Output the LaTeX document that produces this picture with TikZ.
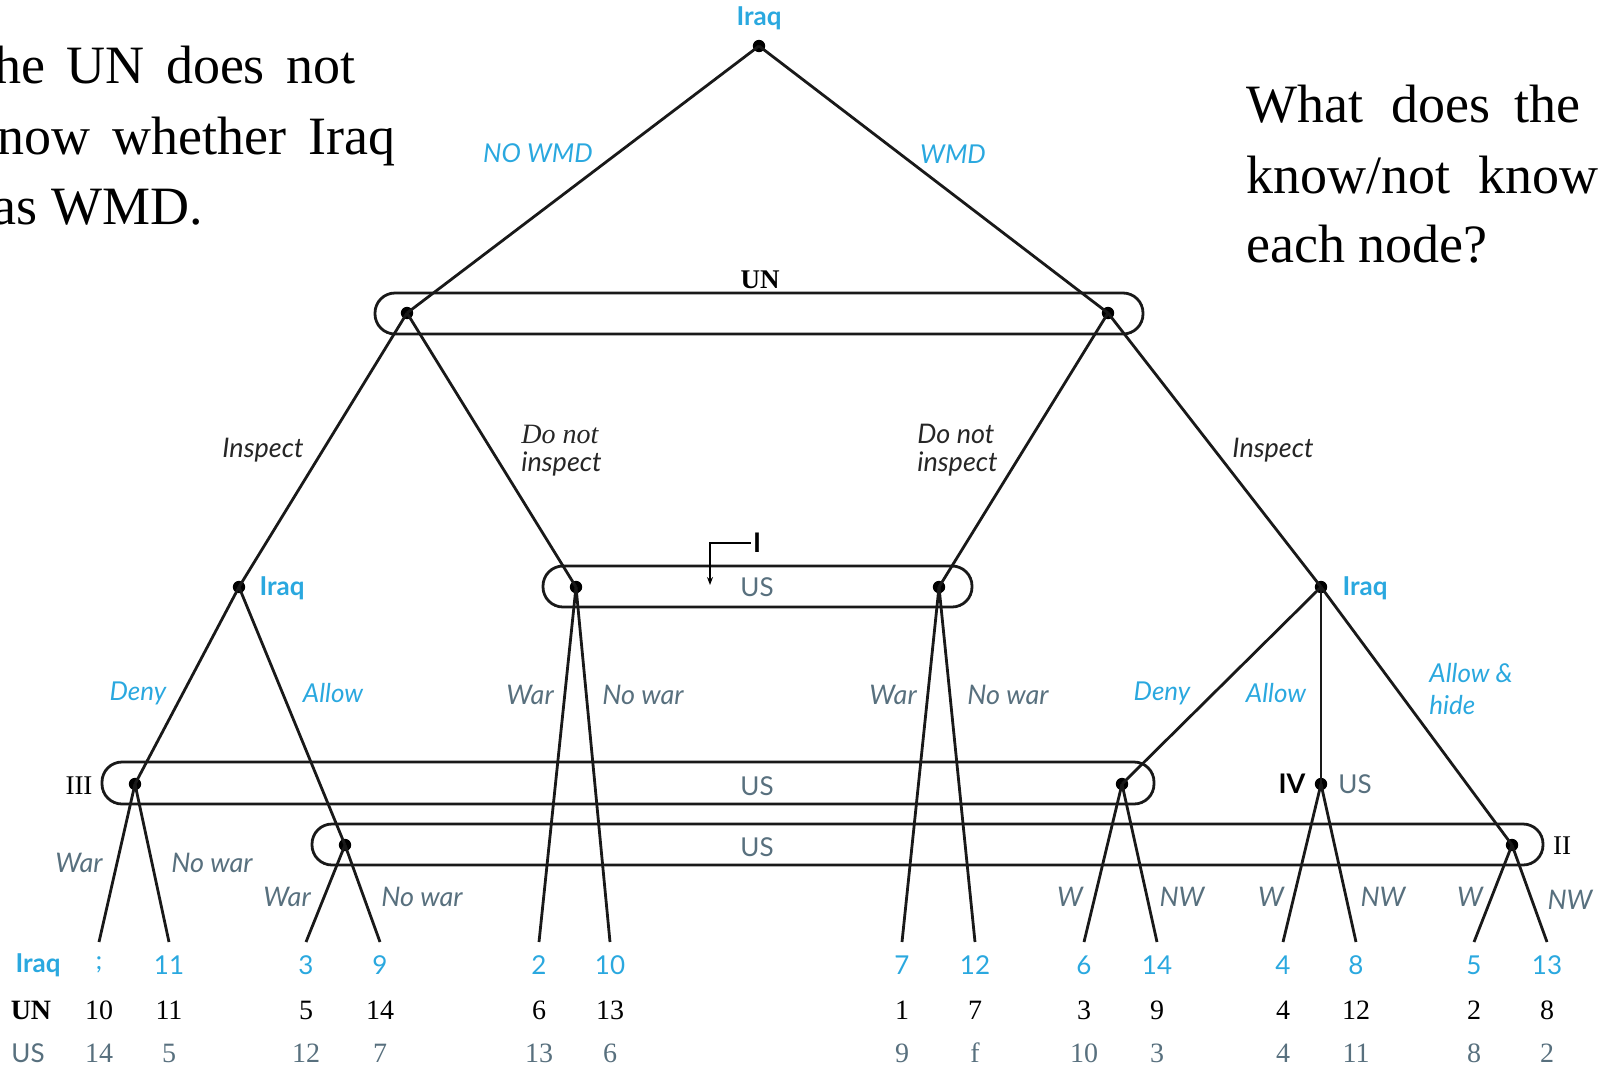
\documentclass[tikz,border=0pt]{standalone}
\usepackage{fontspec}
\setmainfont{Liberation Serif}
\newfontfamily\lato{Lato}
\usetikzlibrary{arrows.meta}
\definecolor{iblue}{HTML}{2AA8DF}
\definecolor{usgray}{HTML}{58707E}
\definecolor{dk}{HTML}{262626}
\tikzset{
 dot/.style={circle, fill=black, inner sep=0pt, minimum size=6.2pt},
 edge/.style={line width=1.4pt, draw=black!90},
 iset/.style={draw=black!90, line width=1.4pt, rounded corners=10pt, inner sep=0pt, minimum height=20.5pt},
 bl/.style={font=\lato\itshape\fontsize{13}{16}\selectfont, text=iblue, inner sep=0pt},
 gl/.style={font=\lato\itshape\fontsize{13.5}{14}\selectfont, text=usgray, inner sep=0pt},
 dl/.style={font=\lato\itshape\fontsize{13.5}{14}\selectfont, text=dk, inner sep=0pt, align=left},
 pl/.style={font=\lato\bfseries\fontsize{13}{14}\selectfont, text=iblue, inner sep=0pt},
 usl/.style={font=\lato\fontsize{13}{14}\selectfont, text=usgray, inner sep=0pt},
 big/.style={font=\fontsize{27}{35}\selectfont, inner sep=0pt},
 piraq/.style={font=\lato\fontsize{13}{14}\selectfont, text=iblue, inner sep=0pt},
 pun/.style={font=\fontsize{14}{15}\selectfont, text=black, inner sep=0pt},
 pus/.style={font=\fontsize{14}{15}\selectfont, text=usgray, inner sep=0pt},
 rom/.style={font=\fontsize{13.5}{15}\selectfont, inner sep=0pt},
}
\begin{document}
\begin{tikzpicture}[x=0.5pt, y=-0.5pt]
\useasboundingbox (0,0) rectangle (1600,1066);

% side texts (cut at the picture's edges, as in the reference)
\node[big, anchor=base west] (t1) at (-6,83) {\makebox[180.5pt][s]{he UN does not}};
\node[big, anchor=base west] (t2) at (-3,154) {\makebox[199pt][s]{now whether Iraq}};
\node[big, anchor=base east] (t3) at (203,224) {as WMD.};
\node[big, anchor=base west] (q1) at (1246,122) {What\hspace{14pt}does\hspace{12pt}the};
\node[big, anchor=base west] (q2) at (1246,193) {know/not\hspace{14pt}know};
\node[big, anchor=base west] (q3) at (1246,262) {each node?};

% information sets
\node[iset, minimum width=384pt] (isUN) at (759,313.5) {};
\node[iset, minimum width=214.5pt] (isI) at (757.5,586.5) {};
\node[iset, minimum width=526pt, minimum height=21pt] (isIII) at (628,783) {};
\node[iset, minimum width=615.5pt] (isII) at (927.5,844.5) {};

% decision nodes
\node[dot] (root) at (759,46) {};
\node[dot] (u1) at (407,313) {};
\node[dot] (u2) at (1108,313) {};
\node[dot] (iL) at (239,587) {};
\node[dot] (s1) at (576,587) {};
\node[dot] (s2) at (939,587) {};
\node[dot] (iR) at (1321,587) {};
\node[dot] (a3) at (135,784) {};
\node[dot] (a4) at (1122,784) {};
\node[dot] (iv) at (1321,784) {};
\node[dot] (b2) at (345,845) {};
\node[dot] (b5) at (1512,845) {};

% leaves
\coordinate (l1) at (99,942);
\coordinate (l2) at (169,942);
\coordinate (l3) at (306,942);
\coordinate (l4) at (380,942);
\coordinate (l5) at (539,942);
\coordinate (l6) at (610,942);
\coordinate (l7) at (902,942);
\coordinate (l8) at (975,942);
\coordinate (l9) at (1084,942);
\coordinate (l10) at (1157,942);
\coordinate (l11) at (1283,942);
\coordinate (l12) at (1356,942);
\coordinate (l13) at (1474,942);
\coordinate (l14) at (1547,942);

% edges
\draw[edge] (root.center) -- (u1.center);
\draw[edge] (root.center) -- (u2.center);
\draw[edge] (u1.center) -- (iL.center);
\draw[edge] (u1.center) -- (s1.center);
\draw[edge] (u2.center) -- (s2.center);
\draw[edge] (u2.center) -- (iR.center);
\draw[edge] (iL.center) -- (a3.center);
\draw[edge] (iL.center) -- (b2.center);
\draw[edge] (iR.center) -- (a4.center);
\draw[edge] (iR.center) -- (iv.center);
\draw[edge] (iR.center) -- (b5.center);
\draw[edge] (a3.center) -- (l1);
\draw[edge] (a3.center) -- (l2);
\draw[edge] (b2.center) -- (l3);
\draw[edge] (b2.center) -- (l4);
\draw[edge] (s1.center) -- (l5);
\draw[edge] (s1.center) -- (l6);
\draw[edge] (s2.center) -- (l7);
\draw[edge] (s2.center) -- (l8);
\draw[edge] (a4.center) -- (l9);
\draw[edge] (a4.center) -- (l10);
\draw[edge] (iv.center) -- (l11);
\draw[edge] (iv.center) -- (l12);
\draw[edge] (b5.center) -- (l13);
\draw[edge] (b5.center) -- (l14);

% player labels
\node[pl] (proot) at (759,18) {Iraq};
\node[font=\bfseries\fontsize{13.5}{15}\selectfont, inner sep=0pt] (pUN) at (760,280) {UN};
\node[usl] (pUSI) at (757,587) {US};
\node[pl] (piL) at (282,588) {Iraq};
\node[pl] (piR) at (1365,588) {Iraq};
\node[usl] (pUSIII) at (757,786) {US};
\node[usl] (pUSII) at (757,847) {US};
\node[usl] (pUSIV) at (1355,784) {US};
\node[font=\lato\bfseries\fontsize{13.5}{15}\selectfont, inner sep=0pt] (mIV) at (1292,784) {IV};
\node[rom] (mIII) at (79,786) {III};
\node[rom] (mII) at (1562,846) {II};
\node[font=\lato\bfseries\fontsize{13.5}{15}\selectfont, inner sep=1pt] (mI) at (757,543) {I};
\coordinate (Itip) at (710,585);
\draw[line width=0.6pt, -{Stealth[length=4pt,width=3pt]}] (mI.west) -| (Itip);

% branch labels
\node[bl] (eNW) at (538,153) {NO WMD};
\node[bl] (eW) at (953,154) {WMD};
\node[dl] (eInL) at (263,450) {Inspect};
\node[dl, anchor=west] (eDnL) at (521,451) {{\rmfamily\itshape\fontsize{14}{14}\selectfont Do not}\\inspect};
\node[dl, anchor=west] (eDnR) at (917,450) {Do not\\inspect};
\node[dl] (eInR) at (1273,450) {Inspect};
\node[bl] (eDL) at (138,693) {Deny};
\node[bl] (eAL) at (333,693) {Allow};
\node[gl] (eWa1) at (530,695) {War};
\node[gl] (eNw1) at (643,695) {No war};
\node[gl] (eWa2) at (893,695) {War};
\node[gl] (eNw2) at (1008,695) {No war};
\node[bl] (eDR) at (1162,693) {Deny};
\node[bl] (eAR) at (1276,693) {Allow};
\node[bl, anchor=west, align=left] (eAH) at (1429,689) {Allow \&\\hide};
\node[gl] (eWa3) at (79,863) {War};
\node[gl] (eNw3) at (212,863) {No war};
\node[gl] (eWa4) at (287,897) {War};
\node[gl] (eNw4) at (422,897) {No war};
\node[gl] (eW5) at (1070,897) {W};
\node[gl] (eN5) at (1182,897) {NW};
\node[gl] (eW6) at (1271,897) {W};
\node[gl] (eN6) at (1383,897) {NW};
\node[gl] (eW7) at (1470,897) {W};
\node[gl] (eN7) at (1570,900) {NW};

% payoffs
\node[pl] (riraq) at (38,965) {Iraq};
\node[font=\bfseries\fontsize{14}{15}\selectfont, inner sep=0pt] (run) at (31,1010) {UN};
\node[usl] (rus) at (28,1053) {US};
\foreach \lf/\vI/\vU/\vS [count=\i] in {l1/{;}/10/14, l2/11/11/5, l3/3/5/12, l4/9/14/7, l5/2/6/13, l6/10/13/6, l7/7/1/9, l8/12/7/f, l9/6/3/10, l10/14/9/3, l11/4/4/4, l12/8/12/11, l13/5/2/8, l14/13/8/2}{
  \node[piraq] (pi\i) at (\lf |- riraq) {\vI};
  \node[pun] (pu\i) at (\lf |- run) {\vU};
  \node[pus] (ps\i) at (\lf |- rus) {\vS};
}
\end{tikzpicture}
\end{document}
